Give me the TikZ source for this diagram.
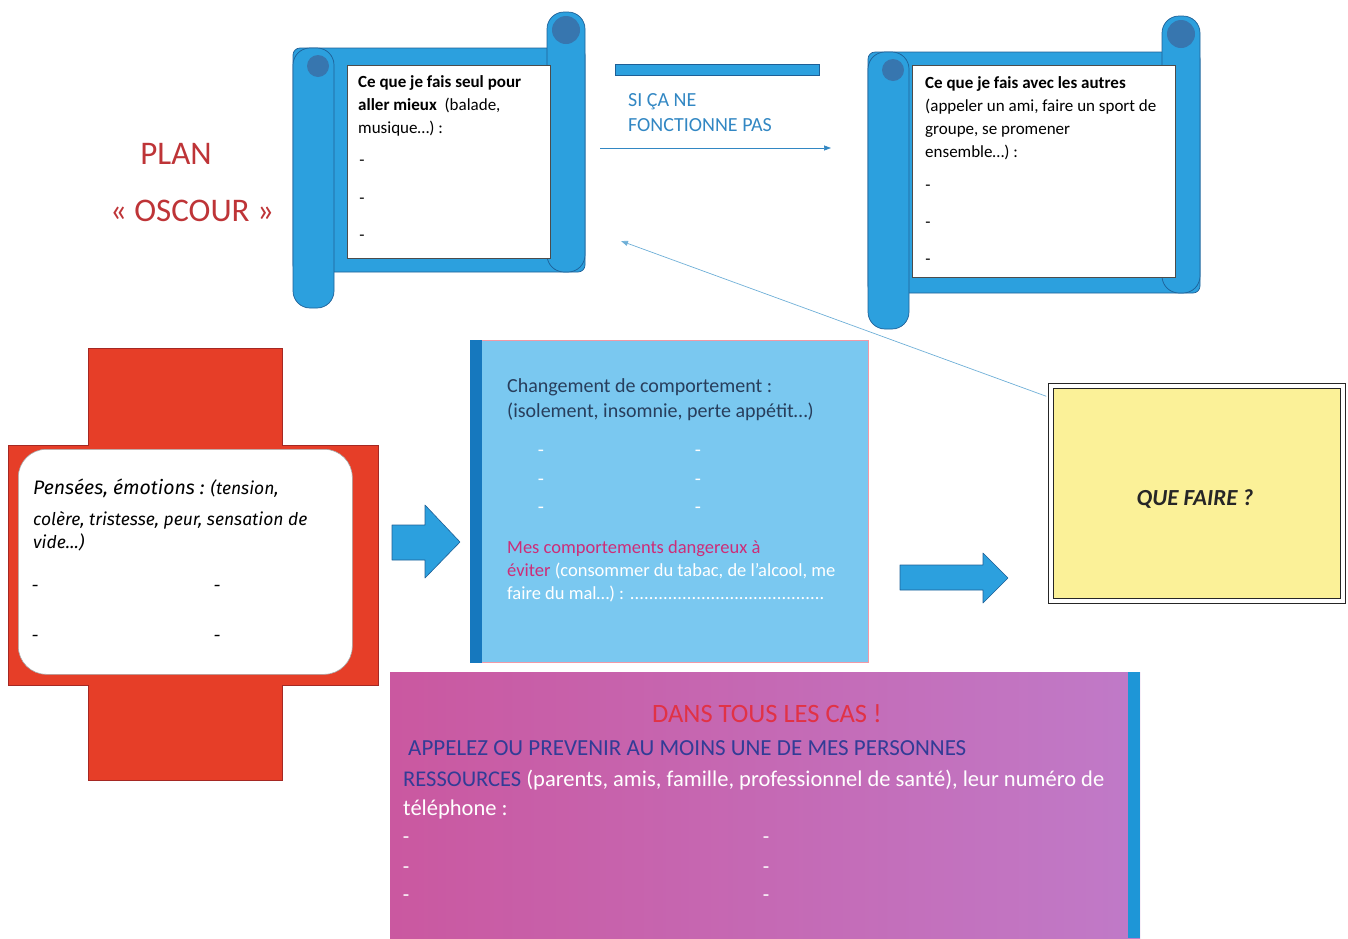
\documentclass[tikz,border=0pt]{standalone}
\usepackage{fontspec}
\setmainfont{Carlito}
\newfontfamily\comicfont{Fira Sans}
\usetikzlibrary{calc, arrows.meta}
\definecolor{planred}{RGB}{190,52,55}
\definecolor{scrollblue}{RGB}{44,160,222}
\definecolor{scrolledge}{RGB}{30,95,150}
\definecolor{curlblue}{RGB}{55,118,175}
\definecolor{siblue}{RGB}{50,135,195}
\definecolor{linkblue}{RGB}{110,175,215}
\definecolor{crossred}{RGB}{230,62,40}
\definecolor{crossedge}{RGB}{165,40,35}
\definecolor{boxblue}{RGB}{122,200,240}
\definecolor{bandblue}{RGB}{22,120,190}
\definecolor{boxtext}{RGB}{40,62,92}
\definecolor{dangerpink}{RGB}{205,45,120}
\definecolor{qfyellow}{RGB}{251,241,152}
\definecolor{purpleL}{RGB}{202,88,160}
\definecolor{purpleR}{RGB}{192,122,200}
\definecolor{castred}{RGB}{225,50,70}
\definecolor{appelblue}{RGB}{50,60,150}
\definecolor{sideblue}{RGB}{30,150,215}
\newcommand{\scrollsize}{\fontsize{17}{23}\selectfont}
\newcommand{\crossfont}{\comicfont\itshape\fontsize{17.5}{23}\selectfont}
\newcommand{\parchemin}[4]{%
    \draw[scrollline, rounded corners=7pt] (#1,#2) rectangle (#3,#4);
    \draw[scrollline, rounded corners=17pt] (#3-38,#2-36) rectangle (#3,#4);
    \draw[scrollline, rounded corners=17pt] (#1,#2) rectangle (#1+41,#4+36);
    \fill[curlblue] (#1+25,#2+18) circle (11pt);
    \fill[curlblue] (#3-19,#2-18) circle (14pt);
}
\tikzset{
    scrollline/.style={draw=scrolledge, fill=scrollblue, line width=0.7pt},
    whitebox/.style={draw=black!70, fill=white, line width=0.6pt, inner sep=0pt, anchor=north west},
    txt/.style={inner sep=0pt, anchor=base west, align=left},
    dashtxt/.style={inner sep=0pt},
    blockarrow/.style={draw=scrolledge, fill=scrollblue, line width=0.6pt, line join=round},
    linkarrow/.style={draw=linkblue, line width=0.7pt, -{Triangle[length=7pt,width=5pt]}},
}

\begin{document}
\begin{tikzpicture}[x=1pt,y=-1pt]
    \useasboundingbox (0,0) rectangle (1348,938);
    \node[inner sep=0pt, anchor=base, text=planred, font=\fontsize{33}{40}\selectfont] (plan) at (176,164) {PLAN};
    \node[inner sep=0pt, anchor=base, text=planred, font=\fontsize{33}{40}\selectfont] (oscour) at (192,221) {« OSCOUR »};

    \parchemin{293}{48}{585}{272}
    \node[whitebox, minimum width=203pt, minimum height=193pt] (seul) at (347,65) {};
    \node[txt, font=\scrollsize] (seultxt) at (358,133) {\textbf{Ce que je fais seul pour}\\\textbf{aller mieux} \ (balade,\\musique…) :};
    \foreach \y [count=\i] in {163,201,238} \node[dashtxt, font=\scrollsize] (seul\i) at (362,\y) {-};

    \parchemin{868}{52}{1200}{293}
    \node[whitebox, minimum width=263pt, minimum height=212pt] (autres) at (912,65) {};
    \node[txt, font=\scrollsize] (autrestxt) at (925,157) {\textbf{Ce que je fais avec les autres}\\(appeler un ami, faire un sport de\\groupe, se promener\\ensemble…) :};
    \foreach \y [count=\i] in {188,225,262} \node[dashtxt, font=\scrollsize] (autres\i) at (928,\y) {-};

    \draw[scrollline, line width=0.4pt] (615,64) rectangle (819,75);
    \node[txt, text=siblue, font=\fontsize{20}{25}\selectfont] (sitxt) at (628,131) {SI ÇA NE\\FONCTIONNE PAS};
    \coordinate (siA) at (600,148);
    \coordinate (siB) at (831,148);
    \draw[linkarrow, draw=siblue] (siA) -- (siB);

    \draw[fill=crossred, draw=crossedge, line width=0.7pt] (88,348) -- (282,348) -- (282,445) -- (378,445) -- (378,685) -- (282,685) -- (282,780) -- (88,780) -- (88,685) -- (8,685) -- (8,445) -- (88,445) -- cycle;
    \node[whitebox, draw=black!35, rounded corners=28pt, minimum width=334pt, minimum height=225pt] (pensees) at (18,449) {};
    \node[txt, font=\crossfont] (penstxt) at (33,548) {{\fontsize{19.5}{23}\selectfont Pensées, émotions :} (tension,\\[8pt]colère, tristesse, peur, sensation de\\vide…)};
    \foreach \y [count=\i] in {588,638} {
        \node[dashtxt, font=\crossfont] (pg\i) at (35,\y) {-};
        \node[dashtxt, font=\crossfont] (pd\i) at (217,\y) {-};
    }

    \draw[blockarrow] (392,525) -- (425,525) -- (425,505) -- (460,542) -- (425,578) -- (425,560) -- (392,560) -- cycle;

    \node[anchor=north west, inner sep=0pt, fill=boxblue, draw=pink!80!purple, line width=0.8pt, minimum width=398pt, minimum height=322pt] (comport) at (470,340) {};
    \fill[bandblue] (comport.north west) rectangle ($(comport.south west)+(12,0)$);
    \node[txt, text=boxtext, font=\fontsize{20}{25}\selectfont] (chgtxt) at (507,417) {Changement de comportement :\\(isolement, insomnie, perte appétit…)};
    \foreach \y [count=\i] in {453,482,510} {
        \node[dashtxt, text=white, font=\fontsize{20}{25}\selectfont] (cg\i) at (541,\y) {-};
        \node[dashtxt, text=white, font=\fontsize{20}{25}\selectfont] (cd\i) at (698,\y) {-};
    }
    \node[txt, text=white, font=\fontsize{18.5}{23}\selectfont] (dangtxt) at (507,599) {\textcolor{dangerpink}{Mes comportements dangereux à}\\\textcolor{dangerpink}{éviter} (consommer du tabac, de l’alcool, me\\faire du mal…) : \makebox[195pt]{\xleaders\hbox{.}\hfill}};

    \draw[blockarrow] (900,565) -- (983,565) -- (983,553) -- (1008,578) -- (983,603) -- (983,590) -- (900,590) -- cycle;

    \node[draw=black!85, double=white, double distance=4pt, line width=1.4pt, fill=qfyellow, inner sep=0pt, minimum width=292pt, minimum height=215pt] (quefaire) at (1197,493.5) {};
    \node[inner sep=0pt, anchor=base, text=black!85, font=\bfseries\itshape\fontsize{23}{27}\selectfont] (qftxt) at (1195,505) {QUE FAIRE ?};
    \coordinate (retour) at (621,241);
    \draw[linkarrow] ($(quefaire.north west)+(-4,11)$) -- (retour);

    \node[anchor=north west, inner sep=0pt, left color=purpleL, right color=purpleR, minimum width=750pt, minimum height=266pt] (tous) at (390,672) {};
    \fill[sideblue] ($(tous.north east)+(-12,0)$) rectangle (tous.south east);
    \node[inner sep=0pt, anchor=base, text=castred, font=\fontsize{26.5}{30}\selectfont] (cas) at (767,722) {DANS TOUS LES CAS !};
    \node[txt, text=appelblue, font=\fontsize{23}{29}\selectfont] (appeltxt) at (408,755) {APPELEZ OU PREVENIR AU MOINS UNE DE MES PERSONNES};
    \node[txt, text=white, font=\fontsize{22.5}{29}\selectfont] (restxt) at (403,815) {\textcolor{appelblue}{RESSOURCES} (parents, amis, famille, professionnel de santé), leur numéro de\\téléphone :};
    \foreach \y [count=\i] in {840,870,898} {
        \node[dashtxt, text=white, font=\fontsize{21}{29}\selectfont] (rg\i) at (406,\y) {-};
        \node[dashtxt, text=white, font=\fontsize{21}{29}\selectfont] (rd\i) at (766,\y) {-};
    }
\end{tikzpicture}
\end{document}
